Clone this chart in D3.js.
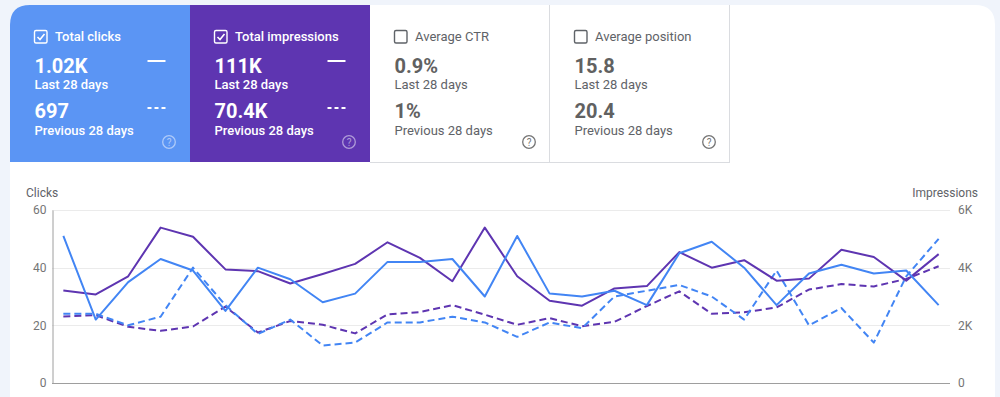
<!DOCTYPE html>
<html>
<head>
<meta charset="utf-8">
<script src="https://cdn.jsdelivr.net/npm/d3@7"></script>
<style>
  body { margin: 0; background: #f0f4fb; }
  svg { display: block; font-family: Roboto, "Noto Sans", sans-serif; }
</style>
</head>
<body>
<svg id="chart" width="1000" height="397"></svg>
<script>
// summary cards
var cardTitles = ["Total clicks", "Total impressions", "Average CTR", "Average position"];
var cardCurrent = ["1.02K", "111K", "0.9%", "15.8"];
var cardPrevious = ["697", "70.4K", "1%", "20.4"];
var cardSelected = [true, true, false, false];
var cardColors = ["#5b95f4", "#5e35b1", "#ffffff", "#ffffff"];

// daily series, last 28 days vs previous 28 days
var clicksCurrent = [51, 22, 35, 43, 39, 25, 40, 36, 28, 31, 42, 42, 43, 30, 51, 31, 30, 32, 27, 45, 49, 40, 27, 38, 41, 38, 39, 27];
var impressionsCurrent = [3210, 3070, 3700, 5390, 5070, 3940, 3880, 3450, 3780, 4130, 4880, 4340, 3530, 5390, 3700, 2850, 2680, 3280, 3360, 4540, 4000, 4260, 3550, 3620, 4620, 4370, 3550, 4470];
var clicksPrevious = [24, 24, 20, 23, 40, 27, 17, 22, 13, 14, 21, 21, 23, 21, 16, 21, 19, 30, 32, 34, 30, 22, 39, 20, 26, 14, 37, 50];
var impressionsPrevious = [2310, 2350, 1950, 1810, 1960, 2650, 1750, 2150, 2020, 1720, 2380, 2460, 2700, 2370, 2020, 2250, 1970, 2120, 2670, 3180, 2400, 2450, 2620, 3240, 3430, 3350, 3610, 4050];

var clickTicks = [0, 20, 40, 60];
var impressionTicks = [0, 2000, 4000, 6000];
var impressionTickLabels = ["0", "2K", "4K", "6K"];

var svg = d3.select("#chart");

// white panel
svg.append("path")
    .attr("d", "M10,397 V25 Q10,5 30,5 H975 Q995,5 995,25 V397 Z")
    .attr("fill", "#ffffff");

// ---- cards ----
var cardW = 180, cardTop = 5, cardBottom = 162;
var cards = svg.selectAll(".card")
    .data(cardTitles)
    .enter().append("g")
    .attr("class", "card")
    .attr("transform", function(d, i) { return "translate(" + (10 + i * cardW) + ",0)"; });

cards.append("path")
    .attr("d", function(d, i) {
        if (i === 0) return "M0," + cardBottom + " V" + (cardTop + 20) + " Q0," + cardTop + " 20," + cardTop + " H" + cardW + " V" + cardBottom + " Z";
        return "M0," + cardBottom + " V" + cardTop + " H" + cardW + " V" + cardBottom + " Z";
    })
    .attr("fill", function(d, i) { return cardColors[i]; });

// borders of the unselected cards
cards.filter(function(d, i) { return !cardSelected[i]; })
    .append("line")
    .attr("x1", cardW - 0.5).attr("x2", cardW - 0.5)
    .attr("y1", cardTop).attr("y2", cardBottom)
    .attr("stroke", "#dadce0");
cards.filter(function(d, i) { return !cardSelected[i]; })
    .append("line")
    .attr("x1", 0).attr("x2", cardW)
    .attr("y1", cardBottom + 0.5).attr("y2", cardBottom + 0.5)
    .attr("stroke", "#dadce0");

function txtColor(i) { return cardSelected[i] ? "#ffffff" : "#5f6368"; }
function txtWeight(i) { return cardSelected[i] ? 500 : 400; }

cards.append("rect")
    .attr("x", 24.5).attr("y", 30.5)
    .attr("width", 12.5).attr("height", 12.5)
    .attr("rx", 1.5)
    .attr("fill", "none")
    .attr("stroke", function(d, i) { return txtColor(i); })
    .attr("stroke-width", 1.4);

cards.filter(function(d, i) { return cardSelected[i]; })
    .append("path")
    .attr("d", "M27.5,37 L30,39.5 L34.5,34")
    .attr("fill", "none")
    .attr("stroke", "#ffffff")
    .attr("stroke-width", 1.6);

cards.append("text")
    .attr("x", 45).attr("y", 41)
    .attr("font-size", "13px")
    .attr("font-weight", function(d, i) { return txtWeight(i); })
    .attr("fill", function(d, i) { return txtColor(i); })
    .text(function(d) { return d; });

cards.append("text")
    .attr("x", 24.5).attr("y", 72.5)
    .attr("font-size", "20px")
    .attr("font-weight", "bold")
    .attr("fill", function(d, i) { return cardSelected[i] ? "#ffffff" : "#616161"; })
    .text(function(d, i) { return cardCurrent[i]; });

cards.append("text")
    .attr("x", 24.5).attr("y", 89)
    .attr("font-size", "13px")
    .attr("font-weight", function(d, i) { return txtWeight(i); })
    .attr("fill", function(d, i) { return txtColor(i); })
    .text("Last 28 days");

cards.append("text")
    .attr("x", 24.5).attr("y", 118)
    .attr("font-size", "20px")
    .attr("font-weight", "bold")
    .attr("fill", function(d, i) { return cardSelected[i] ? "#ffffff" : "#616161"; })
    .text(function(d, i) { return cardPrevious[i]; });

cards.append("text")
    .attr("x", 24.5).attr("y", 134.5)
    .attr("font-size", "13px")
    .attr("font-weight", function(d, i) { return txtWeight(i); })
    .attr("fill", function(d, i) { return txtColor(i); })
    .text("Previous 28 days");

// legend marks for line style
var sel = cards.filter(function(d, i) { return cardSelected[i]; });
sel.append("line")
    .attr("x1", 137.5).attr("x2", 155.5)
    .attr("y1", 61).attr("y2", 61)
    .attr("stroke", "#ffffff").attr("stroke-width", 2);
sel.append("line")
    .attr("x1", 137.5).attr("x2", 155.5)
    .attr("y1", 108).attr("y2", 108)
    .attr("stroke", "#ffffff").attr("stroke-width", 2)
    .attr("stroke-dasharray", "4,3");

// help icons
var help = cards.append("g")
    .attr("transform", "translate(159,142)")
    .attr("opacity", function(d, i) { return cardSelected[i] ? 0.5 : 1; });
help.append("circle")
    .attr("r", 6.3)
    .attr("fill", "none")
    .attr("stroke", function(d, i) { return cardSelected[i] ? "#ffffff" : "#757575"; })
    .attr("stroke-width", 1.3);
help.append("text")
    .attr("y", 3.5)
    .attr("text-anchor", "middle")
    .attr("font-size", "10px")
    .attr("fill", function(d, i) { return cardSelected[i] ? "#ffffff" : "#757575"; })
    .text("?");

// ---- line chart ----
var plotLeft = 52, plotRight = 950, plotTop = 210, plotBottom = 383;
var days = d3.range(clicksCurrent.length);

var x = d3.scalePoint().domain(days).range([plotLeft, plotRight]).padding(0.35);
var yClicks = d3.scaleLinear().domain([0, 60]).range([plotBottom, plotTop]);
var yImpr = d3.scaleLinear().domain([0, 6000]).range([plotBottom, plotTop]);

svg.append("g")
    .selectAll("line")
    .data(clickTicks.slice(1))
    .enter().append("line")
    .attr("x1", plotLeft).attr("x2", plotRight)
    .attr("y1", function(d) { return Math.round(yClicks(d)) + 0.5; })
    .attr("y2", function(d) { return Math.round(yClicks(d)) + 0.5; })
    .attr("stroke", "#ebebeb");

var leftAxis = svg.append("g")
    .attr("transform", "translate(" + (plotLeft + 0.5) + ",0)")
    .call(d3.axisLeft(yClicks).tickValues(clickTicks).tickSize(0).tickPadding(6));
leftAxis.select(".domain").attr("stroke", "#9e9e9e");
leftAxis.selectAll("text").attr("fill", "#757575").attr("font-size", "12px").attr("font-family", "Roboto");

var rightAxis = svg.append("g")
    .attr("transform", "translate(" + plotRight + ",0)")
    .call(d3.axisRight(yImpr).tickValues(impressionTicks)
        .tickFormat(function(d, i) { return impressionTickLabels[i]; })
        .tickSize(0).tickPadding(8));
rightAxis.select(".domain").remove();
rightAxis.selectAll("text").attr("fill", "#757575").attr("font-size", "12px").attr("font-family", "Roboto");

svg.append("line")
    .attr("x1", plotLeft).attr("x2", plotRight)
    .attr("y1", plotBottom + 0.5).attr("y2", plotBottom + 0.5)
    .attr("stroke", "#9e9e9e");

svg.append("text")
    .attr("x", 26).attr("y", 197)
    .attr("font-size", "12px").attr("fill", "#5f6368")
    .text("Clicks");
svg.append("text")
    .attr("x", 978).attr("y", 197)
    .attr("text-anchor", "end")
    .attr("font-size", "12px").attr("fill", "#5f6368")
    .text("Impressions");

var lineClicks = d3.line()
    .x(function(d, i) { return x(i); })
    .y(function(d) { return yClicks(d); });
var lineImpr = d3.line()
    .x(function(d, i) { return x(i); })
    .y(function(d) { return yImpr(d); });

var series = [
    { values: impressionsPrevious, line: lineImpr, color: "#5e35b1", dash: "7,4" },
    { values: clicksPrevious, line: lineClicks, color: "#4285f4", dash: "7,4" },
    { values: impressionsCurrent, line: lineImpr, color: "#5e35b1", dash: null },
    { values: clicksCurrent, line: lineClicks, color: "#4285f4", dash: null }
];

svg.append("g")
    .selectAll("path")
    .data(series)
    .enter().append("path")
    .attr("d", function(s) { return s.line(s.values); })
    .attr("fill", "none")
    .attr("stroke", function(s) { return s.color; })
    .attr("stroke-width", 2)
    .attr("stroke-linejoin", "round")
    .attr("stroke-dasharray", function(s) { return s.dash; });
</script>
</body>
</html>
